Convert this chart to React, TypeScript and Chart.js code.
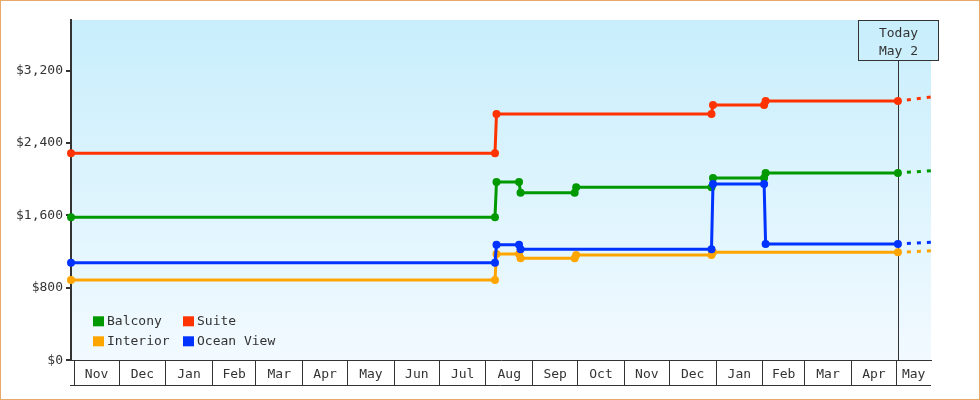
import React, { useEffect, useRef } from 'react';
import { Chart, registerables } from 'chart.js';

Chart.register(...registerables);

const FONT = '"DejaVu Sans Mono", monospace';
const INK = '#333333';

// Axis / calendar data
const monthLabels = ['Nov', 'Dec', 'Jan', 'Feb', 'Mar', 'Apr', 'May', 'Jun', 'Jul', 'Aug', 'Sep', 'Oct', 'Nov', 'Dec', 'Jan', 'Feb', 'Mar', 'Apr', 'May'];
const firstMonth = '2023-11-01';
const axisStart = '2023-10-30';
const axisEnd = '2025-05-24';
const todayDate = '2025-05-02';
const todayText = ['Today', 'May 2'];
const yMax = 3760;
const yTickValues = [0, 800, 1600, 2400, 3200];

// Series data
const seriesLabels = ['Balcony', 'Suite', 'Interior', 'Ocean View'];
const seriesColors = ['#009900', '#FF3300', '#FFA500', '#0033FF'];

const balconyDates = ['2023-10-30', '2024-08-07', '2024-08-08', '2024-08-23', '2024-08-24', '2024-09-29', '2024-09-30', '2024-12-29', '2024-12-30', '2025-02-02', '2025-02-03', '2025-05-02'];
const balconyPrices = [1580, 1580, 1970, 1970, 1852, 1852, 1912, 1912, 2014, 2014, 2070, 2070];

const suiteDates = ['2023-10-30', '2024-08-07', '2024-08-08', '2024-12-29', '2024-12-30', '2025-02-02', '2025-02-03', '2025-05-02'];
const suitePrices = [2287, 2287, 2721, 2721, 2821, 2821, 2865, 2865];

const interiorDates = ['2023-10-30', '2024-08-07', '2024-08-08', '2024-08-23', '2024-08-24', '2024-09-29', '2024-09-30', '2024-12-29', '2024-12-30', '2025-05-02'];
const interiorPrices = [887, 887, 1174, 1174, 1127, 1127, 1163, 1163, 1193, 1193];

const oceanDates = ['2023-10-30', '2024-08-07', '2024-08-08', '2024-08-23', '2024-08-24', '2024-12-29', '2024-12-30', '2025-02-02', '2025-02-03', '2025-05-02'];
const oceanPrices = [1078, 1078, 1277, 1277, 1227, 1227, 1948, 1948, 1285, 1285];

const forecastDates = ['2025-05-02', '2025-05-24'];
const balconyForecast = [2070, 2095];
const suiteForecast = [2865, 2909];
const interiorForecast = [1193, 1211];
const oceanForecast = [1285, 1304];

const DAY = 86400000;
const day = (s: string) => (Date.parse(s) - Date.parse(firstMonth)) / DAY;

export default function App() {
  const ref = useRef<HTMLCanvasElement | null>(null);

  useEffect(() => {
    document.body.style.margin = '0';
    const canvas = ref.current;
    if (!canvas) return;

    const xMin = day(axisStart);
    const xMax = day(axisEnd);
    const base = Date.UTC(2023, 10, 1);
    const monthStarts = monthLabels.map((_, i) => (Date.UTC(2023, 10 + i, 1) - base) / DAY);
    const monthMids = monthStarts.map((s, i) => {
      const next = i + 1 < monthStarts.length ? monthStarts[i + 1] : xMax;
      return (s + Math.min(next, xMax)) / 2;
    });

    const pts = (dates: string[], vals: number[]) => dates.map((d, i) => ({ x: day(d), y: vals[i] }));

    const solid = [
      pts(balconyDates, balconyPrices),
      pts(suiteDates, suitePrices),
      pts(interiorDates, interiorPrices),
      pts(oceanDates, oceanPrices),
    ];
    const fc = [balconyForecast, suiteForecast, interiorForecast, oceanForecast].map((v) => pts(forecastDates, v));

    let grad: CanvasGradient | null = null;

    const decor = {
      id: 'decor',
      beforeDraw(chart: any) {
        const { ctx, chartArea: a, width, height } = chart;
        ctx.save();
        ctx.fillStyle = '#ffffff';
        ctx.fillRect(0, 0, width, height);
        grad = ctx.createLinearGradient(0, a.top, 0, a.bottom);
        grad.addColorStop(0, '#C8EEFC');
        grad.addColorStop(1, '#F2FAFF');
        ctx.fillStyle = grad;
        ctx.fillRect(a.left, a.top, a.right - a.left, a.bottom - a.top);
        ctx.strokeStyle = '#E8A868';
        ctx.lineWidth = 1;
        ctx.strokeRect(0.5, 0.5, width - 1, height - 1);
        ctx.restore();
      },
      beforeDatasetsDraw(chart: any) {
        const { ctx, chartArea: a, scales } = chart;
        const x = Math.round(scales.x.getPixelForValue(day(todayDate))) + 0.5;
        const boxTop = a.top + 0.5;
        const boxH = 40;
        ctx.save();
        ctx.strokeStyle = INK;
        ctx.lineWidth = 1;
        ctx.beginPath();
        ctx.moveTo(x, boxTop + boxH);
        ctx.lineTo(x, a.bottom);
        ctx.stroke();
        ctx.fillStyle = grad || '#C8EEFC';
        ctx.fillRect(x - 40, boxTop, 80, boxH);
        ctx.strokeRect(x - 40, boxTop, 80, boxH);
        ctx.fillStyle = INK;
        ctx.font = `13px ${FONT}`;
        ctx.textAlign = 'center';
        ctx.textBaseline = 'alphabetic';
        ctx.fillText(todayText[0], x, boxTop + 16.5);
        ctx.fillText(todayText[1], x, boxTop + 34.5);
        ctx.restore();
      },
      afterDraw(chart: any) {
        const { ctx, chartArea: a } = chart;
        ctx.save();
        ctx.strokeStyle = INK;
        ctx.lineWidth = 1;
        ctx.beginPath();
        const y = Math.round(a.bottom + 25) + 0.5;
        ctx.moveTo(a.left - 1, y);
        ctx.lineTo(a.right, y);
        ctx.stroke();
        // legend
        ctx.font = `13px ${FONT}`;
        ctx.textAlign = 'left';
        ctx.textBaseline = 'alphabetic';
        const colX = [a.left + 22, a.left + 112];
        const rowY = [a.bottom - 44, a.bottom - 24];
        seriesLabels.forEach((lab, i) => {
          const cx = colX[i % 2];
          const ry = rowY[Math.floor(i / 2)];
          ctx.fillStyle = seriesColors[i];
          ctx.fillRect(cx, ry, 11, 10);
          ctx.fillStyle = INK;
          ctx.fillText(lab, cx + 14, ry + 9);
        });
        ctx.restore();
      },
    };

    const datasets: any[] = [];
    seriesLabels.forEach((lab, i) => {
      datasets.push({
        label: lab,
        data: solid[i],
        borderColor: seriesColors[i],
        backgroundColor: seriesColors[i],
        borderWidth: 3,
        pointRadius: 4,
        pointBorderWidth: 0,
        pointStyle: 'circle',
        tension: 0,
        clip: false,
        order: lab === 'Ocean View' ? 0 : 1,
      });
    });
    seriesLabels.forEach((lab, i) => {
      datasets.push({
        label: lab + ' forecast',
        data: fc[i],
        borderColor: seriesColors[i],
        backgroundColor: seriesColors[i],
        borderWidth: 3,
        borderDash: [4, 6],
        borderDashOffset: 1,
        pointRadius: 0,
        tension: 0,
        clip: false,
        order: 2,
      });
    });

    const chart = new Chart(canvas, {
      type: 'line',
      data: { datasets },
      plugins: [decor],
      options: {
        responsive: false,
        animation: false,
        events: [],
        layout: { padding: { top: 20, right: 49, left: 0, bottom: 0 } },
        plugins: { legend: { display: false }, tooltip: { enabled: false } },
        scales: {
          x: {
            type: 'linear',
            position: 'bottom',
            weight: 1,
            min: xMin,
            max: xMax,
            afterBuildTicks: (s: any) => {
              s.ticks = monthMids.map((v) => ({ value: v }));
            },
            afterFit: (s: any) => {
              s.height = 39.7;
            },
            grid: { display: false, drawTicks: false },
            border: { display: true, color: INK, width: 1 },
            ticks: {
              autoSkip: false,
              maxRotation: 0,
              padding: 7,
              color: INK,
              font: { family: FONT, size: 13 },
              callback: (_v: any, i: number) => monthLabels[i],
            },
          },
          xb: {
            type: 'linear',
            position: 'bottom',
            weight: 0,
            min: xMin,
            max: xMax,
            afterBuildTicks: (s: any) => {
              s.ticks = monthStarts.map((v) => ({ value: v }));
            },
            afterFit: (s: any) => {
              s.height = 0;
            },
            grid: { drawOnChartArea: false, drawTicks: true, tickLength: 25, color: INK, lineWidth: 1 },
            ticks: { display: false },
            border: { display: false },
          },
          y: {
            type: 'linear',
            min: 0,
            max: yMax,
            afterFit: (s: any) => {
              s.width = 71;
            },
            afterBuildTicks: (s: any) => {
              s.ticks = yTickValues.map((v) => ({ value: v }));
            },
            grid: { drawOnChartArea: false, drawTicks: true, tickLength: 5, lineWidth: 2, color: INK },
            border: { display: true, color: INK, width: 2 },
            ticks: {
              padding: 3,
              color: INK,
              font: { family: FONT, size: 13 },
              callback: (v: any) => '$' + Number(v).toLocaleString('en-US'),
            },
          },
        },
      },
    } as any);

    return () => chart.destroy();
  }, []);

  return (
    <div style={{ width: 980, height: 400 }}>
      <canvas ref={ref} width={980} height={400} />
    </div>
  );
}
